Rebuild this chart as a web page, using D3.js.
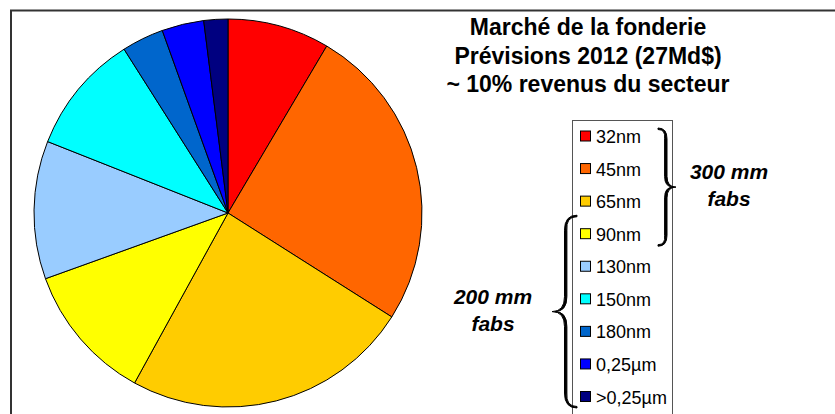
<!DOCTYPE html>
<html lang="fr">
  <head>
    <meta charset="UTF-8" />
    <title>Marché de la fonderie</title>
    <script src="https://d3js.org/d3.v7.min.js"></script>
    <style>
      body { margin: 0; background: #fff; }
      text { font-family: Arial, "Liberation Sans", sans-serif; }
      .slice { stroke: #000; stroke-width: 1; }
      .brace { fill: #000; stroke: #000; stroke-width: 1; stroke-linejoin: round; }
    </style>
  </head>
  <body>
    <svg width="835" height="414"></svg>
    <script>
      // données (parts en %)
      const categories = ["32nm", "45nm", "65nm", "90nm", "130nm", "150nm", "180nm", "0,25µm", ">0,25µm"];
      const shares = [8.5, 25.5, 24, 11.5, 11.5, 10, 3.5, 3.5, 2];
      const colors = ["#ff0000", "#ff6600", "#ffcc00", "#ffff00", "#99ccff", "#00ffff", "#0066cc", "#0000ff", "#000080"];
      const titleLines = ["Marché de la fonderie", "Prévisions 2012 (27Md$)", "~ 10% revenus du secteur"];
      const groups = [
        { label: ["300 mm", "fabs"], from: "32nm", to: "90nm", side: "right" },
        { label: ["200 mm", "fabs"], from: "90nm", to: ">0,25µm", side: "left" }
      ];

      const svg = d3.select("svg");

      // cadre
      svg.append("rect")
        .attr("x", 11).attr("y", 10.5)
        .attr("width", 900).attr("height", 500)
        .attr("fill", "none").attr("stroke", "#333").attr("stroke-width", 2);

      // camembert
      const cx = 228, cy = 213, r = 194;
      const pie = d3.pie().sort(null).value(d => d);
      const arc = d3.arc().innerRadius(0).outerRadius(r);

      svg.append("g")
        .attr("transform", `translate(${cx},${cy})`)
        .selectAll("path")
        .data(pie(shares))
        .enter()
        .append("path")
        .attr("class", "slice")
        .attr("d", arc)
        .attr("fill", (d, i) => colors[i]);

      // titre
      svg.append("g").selectAll("text")
        .data(titleLines)
        .enter()
        .append("text")
        .attr("x", 588)
        .attr("y", (d, i) => 35 + i * 28.5)
        .attr("text-anchor", "middle")
        .attr("font-size", 23)
        .attr("font-weight", "bold")
        .text(d => d);

      // légende
      const ly = d3.scalePoint().domain(categories).range([136.5, 397]);
      svg.append("rect")
        .attr("x", 572.5).attr("y", 120.5)
        .attr("width", 100).attr("height", 320)
        .attr("fill", "#fff").attr("stroke", "#555").attr("stroke-width", 1);

      const item = svg.append("g").selectAll("g")
        .data(categories)
        .enter()
        .append("g")
        .attr("transform", d => `translate(580,${ly(d)})`);

      item.append("rect")
        .attr("x", 0.5).attr("y", -5.5)
        .attr("width", 10).attr("height", 10)
        .attr("fill", (d, i) => colors[i])
        .attr("stroke", "#000").attr("stroke-width", 1);

      item.append("text")
        .attr("x", 16).attr("y", 6.5)
        .attr("font-size", 18)
        .text(d => d);

      // accolades (forme pleine, plus épaisse au milieu)
      function brace(x, y0, y1, w) {
        // w > 0 : pointe vers la droite, w < 0 : vers la gauche
        const s = Math.sign(w), ym = (y0 + y1) / 2, xm = x + w / 2, q = Math.abs(w) * 0.6;
        const t = 1.2 * s, T = 2.4 * s;
        const outer = `M${x},${y0} Q${xm},${y0} ${xm},${y0 + q} L${xm},${ym - q} Q${xm},${ym} ${x + w},${ym}` +
                      ` Q${xm},${ym} ${xm},${ym + q} L${xm},${y1 - q} Q${xm},${y1} ${x},${y1}`;
        const back = ` L${x},${y1 - 1.5} Q${xm - t},${y1 - 1.5} ${xm - T},${y1 - q}` +
                     ` L${xm - T},${ym + q} Q${xm - T},${ym} ${x + w - 3 * s},${ym}` +
                     ` Q${xm - T},${ym} ${xm - T},${ym - q} L${xm - T},${y0 + q}` +
                     ` Q${xm - t},${y0 + 1.5} ${x},${y0 + 1.5} Z`;
        return outer + back;
      }

      groups.forEach(g => {
        let y0, y1, d, tx;
        if (g.side === "right") {
          y0 = ly(g.from) - 8.5; y1 = ly(g.to) + 12;
          d = brace(658, y0, y1, 18); tx = 729;
        } else {
          y0 = ly(g.from) - 19; y1 = ly(g.to) + 11;
          d = brace(577, y0, y1, -25); tx = 493;
        }
        svg.append("path").attr("class", "brace").attr("d", d);
        const ym = (y0 + y1) / 2;
        svg.append("g").selectAll("text")
          .data(g.label)
          .enter()
          .append("text")
          .attr("x", tx)
          .attr("y", (t, i) => ym - 8 + i * 27)
          .attr("text-anchor", "middle")
          .attr("font-size", 21)
          .attr("font-weight", "bold")
          .attr("font-style", "italic")
          .text(t => t);
      });
    </script>
  </body>
</html>
